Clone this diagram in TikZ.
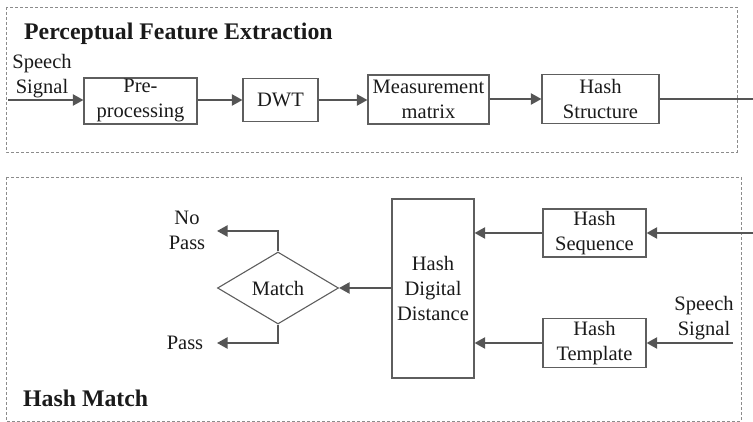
\documentclass[tikz,border=0pt]{standalone}
\usepackage{fontspec}
\setmainfont{Liberation Serif}
\usetikzlibrary{shapes.geometric,arrows.meta}
\definecolor{ln}{HTML}{555555}
\definecolor{bx}{HTML}{5E5E5E}
\definecolor{dsh}{HTML}{8C8C8C}
\definecolor{tx}{HTML}{1A1A1A}
\tikzset{
  txt/.style={font=\fontsize{20.5}{25}\selectfont, text=tx, align=center, inner sep=0pt},
  blk/.style={draw=bx, line width=1.1pt, txt, inner sep=0pt},
  arr/.style={draw=ln, line width=2pt, -{Triangle[length=10.5pt,width=11pt]}},
  plain/.style={draw=ln, line width=2pt},
  frame/.style={draw=dsh, line width=0.9pt, dash pattern=on 3pt off 2pt},
  ttl/.style={font=\fontsize{23.8}{28}\selectfont\bfseries, text=tx, inner sep=0pt, anchor=west}
}
\begin{document}
\begin{tikzpicture}[x=1pt,y=-1pt]
\useasboundingbox (0,0) rectangle (753,422);
% frames
\draw[frame] (6,7) rectangle (737,152);
\draw[frame] (6,177) rectangle (741,421);
\node[ttl] (t1) at (24,34) {Perceptual Feature Extraction};
\node[ttl] (t2) at (23,398) {Hash Match};
% top row
\node[txt] (sig1) at (42,76) {Speech\\Signal};
\coordinate (in1) at (8,100);
\node[blk, minimum width=113pt, minimum height=46pt] (pre) at (140.5,101) {Pre-\\processing};
\node[blk, minimum width=75pt, minimum height=43pt] (dwt) at (280.5,100) {DWT};
\node[blk, minimum width=121pt, minimum height=49pt] (mea) at (428.5,99.5) {Measurement\\matrix};
\node[blk, minimum width=117pt, minimum height=49pt] (hs) at (600.5,99) {Hash\\Structure};
\coordinate (out1) at (753,99);
\draw[arr] (in1) -- (in1 -| pre.west);
\draw[arr] (pre.east |- dwt.west) -- (dwt.west);
\draw[arr] (dwt.east) -- (dwt.east -| mea.west);
\draw[arr] (mea.east |- hs.west) -- (hs.west);
\draw[plain] (hs.east) -- (out1);
% bottom
\node[blk, minimum width=82pt, minimum height=179pt] (hdd) at (433,288.5) {Hash\\Digital\\Distance};
\node[blk, minimum width=103pt, minimum height=48pt] (seq) at (594.5,233) {Hash\\Sequence};
\node[blk, minimum width=103pt, minimum height=49pt] (tmp) at (594.5,343) {Hash\\Template};
\node[txt] (sig2) at (704,318) {Speech\\Signal};
\coordinate (in2) at (753,233);
\coordinate (in3) at (733,343);
\draw[arr] (in2) -- (seq.east);
\draw[arr] (seq.west) -- (seq.west -| hdd.east);
\draw[arr] (in3) -- (tmp.east);
\draw[arr] (tmp.west) -- (tmp.west -| hdd.east);
\node[draw=bx, line width=1.1pt, diamond, txt, minimum width=121pt, minimum height=72pt] (mat) at (278,288) {Match};
\draw[arr] (hdd.west |- mat.east) -- (mat.east);
\coordinate (np) at (217,231);
\coordinate (ps) at (217,343);
\draw[arr] (mat.north) |- (np);
\draw[arr] (mat.south) |- (ps);
\node[txt] (nptxt) at (187,230) {No\\Pass};
\node[txt] (pstxt) at (185,343) {Pass};
\end{tikzpicture}
\end{document}
